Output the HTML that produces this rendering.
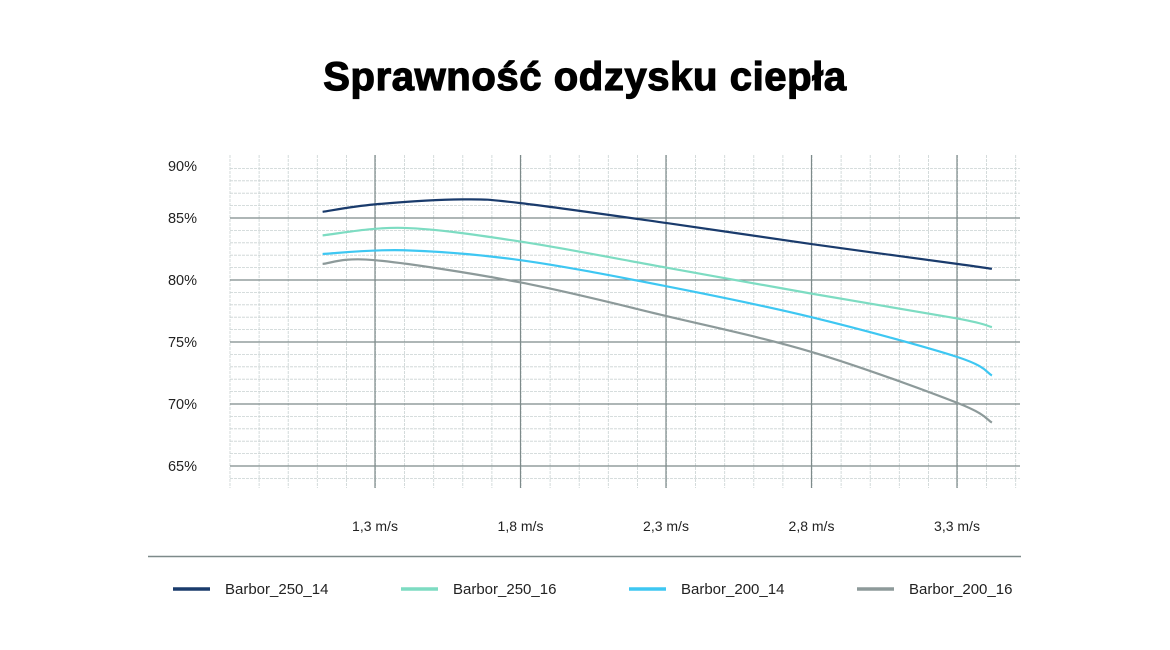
<!DOCTYPE html>
<html><head><meta charset="utf-8"><style>
html,body{margin:0;padding:0;background:#fff;width:1170px;height:650px;overflow:hidden}
svg text{font-family:"Liberation Sans",sans-serif}
</style></head><body>
<svg id="chart" width="1170" height="650" viewBox="0 0 1170 650" xmlns="http://www.w3.org/2000/svg">
<text x="585" y="90" text-anchor="middle" font-size="40" font-weight="bold" fill="#000" stroke="#000" stroke-width="1.2" style="letter-spacing:0.6px">Sprawność odzysku ciepła</text>
<g id="grid"></g>
<g id="axes"></g>
<g id="series"></g>
<line x1="148" y1="556.5" x2="1021" y2="556.5" stroke="#7d8a8a" stroke-width="1.5"/>
<g id="legend"></g>
</svg>
<script>
const xTicks=[1.3,1.8,2.3,2.8,3.3];
const xTickLabels=["1,3 m/s","1,8 m/s","2,3 m/s","2,8 m/s","3,3 m/s"];
const yTicks=[90,85,80,75,70,65];
const yTickLabels=["90%","85%","80%","75%","70%","65%"];
const seriesNames=["Barbor_250_14","Barbor_250_16","Barbor_200_14","Barbor_200_16"];
const xs250_14=[1.12,1.3,1.6,1.8,2.3,2.8,3.3,3.42];
const ys250_14=[85.5,86.1,86.5,86.2,84.6,82.9,81.3,80.9];
const xs250_16=[1.12,1.4,1.8,2.3,2.8,3.3,3.42];
const ys250_16=[83.6,84.2,83.1,81.0,78.9,76.9,76.2];
const xs200_14=[1.12,1.4,1.8,2.3,2.8,3.3,3.42];
const ys200_14=[82.1,82.4,81.6,79.5,77.0,73.8,72.3];
const xs200_16=[1.12,1.3,1.8,2.3,2.8,3.3,3.42];
const ys200_16=[81.3,81.6,79.8,77.1,74.2,70.1,68.5];

(function(){
const colors=["#1a3b6c","#7ddcc2","#3ec7f2","#8d9a9a"];
const NS="http://www.w3.org/2000/svg";
const X=v=>375+(v-1.3)*291;
const Y=v=>280-(v-80)*12.4;
function mk(tag,attrs,parent){const e=document.createElementNS(NS,tag);for(const k in attrs)e.setAttribute(k,attrs[k]);parent.appendChild(e);return e;}
const grid=document.getElementById('grid');
const gTop=155,gBot=488,gLeft=230,gRight=1020;
for(let p=64;p<=89;p++){
  if(p%5===0)continue;
  const l=mk('line',{x1:gLeft,x2:gRight,y1:Y(p),y2:Y(p),stroke:'#c9d2d2','stroke-width':0.8,'stroke-dasharray':'3,1'},grid);
  
  
}
for(let i=0;i<28;i++){
  const xv=gLeft+i*29.1;
  if(xv>gRight)break;
  const l=mk('line',{x1:xv,x2:xv,y1:gTop,y2:gBot,stroke:'#c9d2d2','stroke-width':0.8,'stroke-dasharray':'3,1'},grid);
  
  
}
const axes=document.getElementById('axes');
yTicks.forEach((t,i)=>{
  if(t<90){
    const l=mk('line',{x1:gLeft,x2:gRight,y1:Y(t),y2:Y(t),stroke:'#7d8a8a','stroke-width':1.2},grid);
    
    
  }
  const tx=mk('text',{x:197,y:(t===90?166:Y(t))+5,'text-anchor':'end','font-size':14.5,fill:'#222'},axes);
  tx.textContent=yTickLabels[i];
  
  
});
xTicks.forEach((t,i)=>{
  const l=mk('line',{x1:X(t),x2:X(t),y1:gTop,y2:gBot,stroke:'#7d8a8a','stroke-width':1.2},grid);
  
  
  const tx=mk('text',{x:X(t),y:531,'text-anchor':'middle','font-size':14,fill:'#222'},axes);
  tx.textContent=xTickLabels[i];
  
  
});
function smooth(xs,ys){
  const P=xs.map((x,i)=>[X(x),Y(ys[i])]);
  let d='M'+P[0][0]+','+P[0][1];
  for(let i=0;i<P.length-1;i++){
    const p0=P[i-1]||P[i],p1=P[i],p2=P[i+1],p3=P[i+2]||P[i+1];
    const c1=[p1[0]+(p2[0]-p0[0])/6,p1[1]+(p2[1]-p0[1])/6];
    const c2=[p2[0]-(p3[0]-p1[0])/6,p2[1]-(p3[1]-p1[1])/6];
    d+=' C'+c1+' '+c2+' '+p2;
  }
  return d;
}
const sg=document.getElementById('series');
const data=[[xs250_14,ys250_14],[xs250_16,ys250_16],[xs200_14,ys200_14],[xs200_16,ys200_16]];
data.forEach((s,i)=>{
  const p=mk('path',{d:smooth(s[0],s[1]),fill:'none',stroke:colors[i],'stroke-width':2.2},sg);
  
  
});
const lg=document.getElementById('legend');
seriesNames.forEach((n,i)=>{
  const x0=173+i*228;
  const g=mk('g',{},lg);
  
  
  mk('line',{x1:x0,x2:x0+37,y1:589,y2:589,stroke:colors[i],'stroke-width':3.5},g);
  const t=mk('text',{x:x0+52,y:594,'font-size':15,fill:'#222'},g);
  t.textContent=n;
});
})();
</script>
</body></html>
